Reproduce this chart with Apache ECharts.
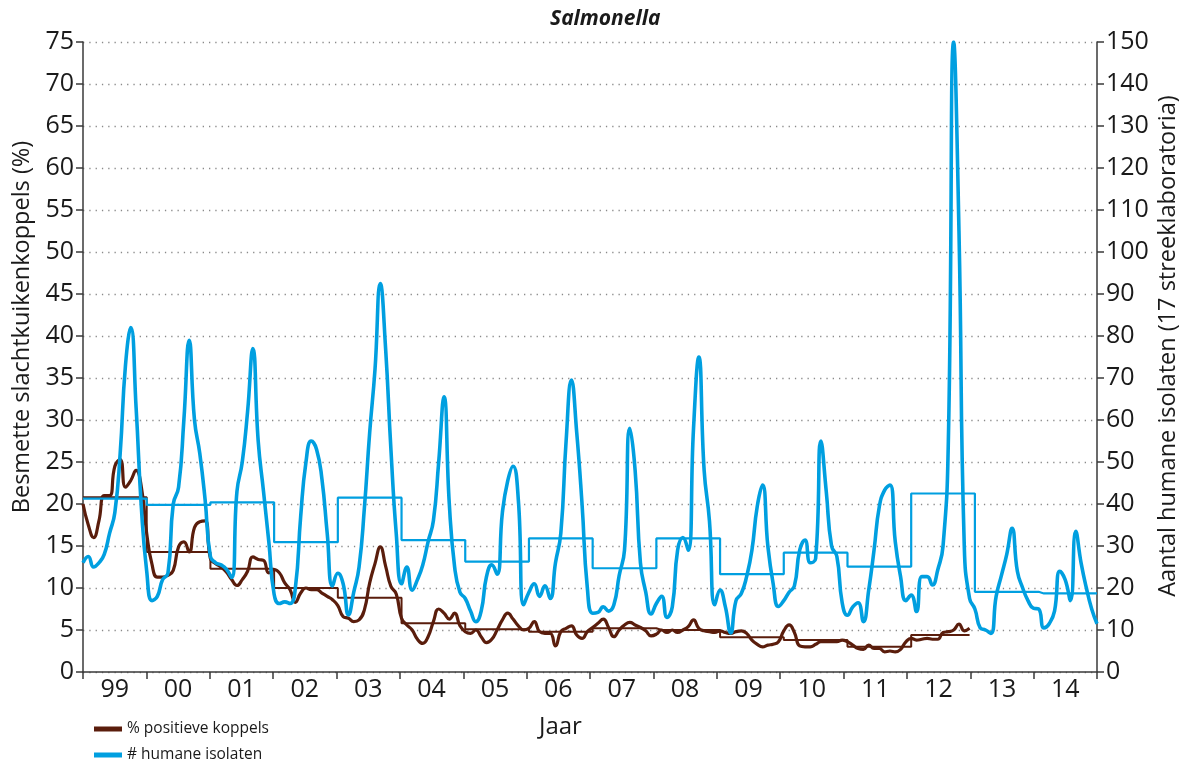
<!DOCTYPE html>
<html>
<head>
<meta charset="utf-8">
<title>Salmonella</title>
<script src="https://cdn.jsdelivr.net/npm/echarts@6/dist/echarts.min.js"></script>
<style>
  html, body { margin: 0; padding: 0; background: #ffffff; }
  #chart { width: 1188px; height: 766px; }
</style>
</head>
<body>
<div id="chart"></div>
<script>
// Year labels on the x axis (1999 .. 2014)
const years = ['99', '00', '01', '02', '03', '04', '05', '06', '07', '08', '09', '10', '11', '12', '13', '14'];

// Monthly number of human isolates (right axis), 1999-2014
const humaneIsolaten = [
  26, 27.5, 25, 26, 28, 33, 38, 52, 73, 82, 63, 39,
  24, 17, 18, 22, 23.5, 40, 44, 60, 79, 60, 52, 41,
  27.5, 26, 25.5, 24.5, 22.5, 43, 50, 62, 77, 55, 43, 31,
  18.5, 16.3, 16.7, 16.3, 20, 37, 50, 55, 53, 46, 33, 20.5,
  23.5, 21, 13.6, 19, 25, 39, 57, 72, 92.5, 77, 53, 33,
  21, 25, 19.5, 22, 25.5, 31, 36, 50, 65.5, 40, 25, 19,
  17.5, 14.5, 12, 14.5, 22.7, 25.5, 23.3, 38, 45.5, 49, 41, 16,
  19, 21, 18, 20.5, 17.5, 26, 33, 55, 69.5, 57, 40, 20,
  14, 14.2, 15.5, 14.5, 16, 23, 29, 58, 48, 26, 19, 13.8,
  16.3, 18, 13, 15.5, 29, 32, 29, 58, 75, 48, 36, 16,
  19.5, 15.5, 9.3, 17, 18.7, 22.7, 29, 39.4, 44.5, 30, 21, 15.6,
  17, 19, 20.5, 29, 31.4, 26, 27, 55, 43, 30, 27.5, 16.5,
  13.5, 15.5, 16.5, 12, 19.5, 29, 39.4, 43.3, 44.5, 31, 22.7, 17,
  18.3, 14.4, 22.7, 22.7, 20.7, 24.3, 30, 55, 150, 105, 30, 17.5,
  15, 10.5, 10, 9.2, 18, 23, 28, 34.2, 24, 20, 17, 15.2,
  15, 10.5, 11.5, 14.5, 24, 22, 17, 33.5, 26, 20, 15, 11.5
];

// Monthly share of positive broiler flocks in % (left axis), 1999-2012
const positieveKoppels = [
  20, 17.5, 16, 18, 21, 21, 24.5, 25.3, 22, 22.8, 24, 22,
  16.5, 12.8, 11.3, 11.3, 11.5, 12.1, 14.9, 15.5, 14.3, 17.2, 17.9, 18,
  13.5, 12.9, 12.5, 11.9, 11, 10.3, 11, 12, 13.7, 13.4, 13.3, 11.8,
  12.2, 11.8, 10.6, 9.8, 8.3, 9.4, 10, 9.8, 9.8, 9.4, 9, 8.6,
  7.9, 6.6, 6.4, 6, 6.2, 7.4, 10.6, 12.9, 14.9, 12.6, 10.2, 9.3,
  6.4, 5.6, 5, 3.9, 3.4, 4.2, 6, 7.5, 7, 6.3, 7, 5.5,
  4.8, 4.6, 5, 4.2, 3.5, 3.9, 5, 6.2, 7, 6.3, 5.5, 5,
  5.2, 6, 4.8, 4.6, 4.6, 3.1, 4.8, 5.2, 5.5, 4.4, 4, 4.8,
  5.3, 5.8, 6.3, 5.3, 4.2, 5, 5.6, 5.9, 5.6, 5.3, 4.9, 4.3,
  4.5, 5, 4.7, 5, 4.7, 5, 5.4, 6.2, 5.2, 4.9, 4.8, 4.7,
  4.9, 4.7, 4.6, 4.8, 4.9, 4.6, 3.8, 3.3, 3, 3.2, 3.3, 3.6,
  4.9, 5.6, 4.7, 3.1, 3, 3, 3.3, 3.6, 3.6, 3.6, 3.6, 3.8,
  3.6, 3.2, 2.8, 2.7, 3.2, 2.8, 2.8, 2.4, 2.5, 2.4, 2.7, 3.6,
  4, 3.8, 3.9, 4, 3.9, 3.9, 4.7, 4.8, 5, 5.7, 4.9, 5.2
];

// Yearly averages, drawn as steps
const humaneJaargemiddelde = [41.3, 39.8, 40.4, 30.9, 41.5, 31.4, 26.3, 31.8, 24.7, 31.8, 23.3, 28.4, 25.1, 42.5, 19.1, 18.7];
const koppelsJaargemiddelde = [20.8, 14.3, 12.3, 10.0, 8.85, 5.8, 5.1, 4.8, 5.2, 5.0, 4.15, 3.8, 3.0, 4.4];

const BLUE = '#009fe0';
const BROWN = '#5a1d0c';
const FONT = '"Open Sans", "Noto Sans", sans-serif';
const TEXT = '#1a1a1a';
const AXIS = '#3a3a3a';

// one category per month for the data lines
const months = years.flatMap(y => Array.from({ length: 12 }, (_, m) => y + '-' + (m + 1)));

// each month carries the average of its own year
const stepOf = (averages) => averages.flatMap(v => Array(12).fill(v));

const chart = echarts.init(document.getElementById('chart'), null, { renderer: 'canvas' });

chart.setOption({
  animation: false,
  backgroundColor: '#ffffff',
  textStyle: { fontFamily: FONT },
  title: [
    {
      text: 'Salmonella', left: 545, top: 4,
      textStyle: { fontFamily: FONT, fontSize: 21, fontWeight: 'bold', fontStyle: 'italic', color: TEXT }
    },
    {
      text: 'Jaar', left: 534, top: 710,
      textStyle: { fontFamily: FONT, fontSize: 24, fontWeight: 'normal', color: TEXT }
    }
  ],
  graphic: [
    {
      type: 'text', x: 22, y: 327, rotation: Math.PI / 2,
      style: {
        text: 'Besmette slachtkuikenkoppels (%)', fontFamily: FONT, fontSize: 23.5,
        fill: TEXT, align: 'center', verticalAlign: 'middle'
      }
    },
    {
      type: 'text', x: 1168, y: 346, rotation: Math.PI / 2,
      style: {
        text: 'Aantal humane isolaten (17 streeklaboratoria)', fontFamily: FONT, fontSize: 23.5,
        fill: TEXT, align: 'center', verticalAlign: 'middle'
      }
    }
  ],
  legend: {
    data: ['% positieve koppels', '# humane isolaten'],
    orient: 'vertical', left: 94, top: 721, padding: 0,
    icon: 'rect', itemWidth: 28, itemHeight: 5, itemGap: 10,
    textStyle: { fontFamily: FONT, fontSize: 15.5, color: TEXT }
  },
  grid: { left: 83, right: 91, top: 42, bottom: 94, containLabel: false },
  xAxis: [
    {
      type: 'category', data: years, boundaryGap: true, position: 'bottom',
      axisLine: { show: true, lineStyle: { color: AXIS, width: 1.5 } },
      axisTick: { show: true, length: 7, lineStyle: { color: AXIS, width: 1.5 } },
      axisLabel: { fontFamily: FONT, fontSize: 25, color: TEXT, margin: 5 },
      splitLine: { show: false }
    },
    {
      type: 'category', data: months, boundaryGap: false, show: false
    }
  ],
  yAxis: [
    {
      type: 'value', min: 0, max: 75, interval: 5, position: 'left',
      axisLine: { show: true, lineStyle: { color: AXIS, width: 1.5 } },
      axisTick: { show: true, length: 7, lineStyle: { color: AXIS, width: 1.5 } },
      axisLabel: { fontFamily: FONT, fontSize: 25, color: TEXT, margin: 9 },
      splitLine: { show: true, lineStyle: { color: '#8a8a8a', width: 1.3, type: [1.3, 5] } }
    },
    {
      type: 'value', min: 0, max: 150, interval: 10, position: 'right',
      axisLine: { show: true, lineStyle: { color: AXIS, width: 1.5 } },
      axisTick: { show: true, length: 7, lineStyle: { color: AXIS, width: 1.5 } },
      axisLabel: { fontFamily: FONT, fontSize: 25, color: TEXT, margin: 9 },
      splitLine: { show: false }
    }
  ],
  series: [
    {
      name: 'koppels jaargemiddelde', type: 'line', xAxisIndex: 1, yAxisIndex: 0,
      data: stepOf(koppelsJaargemiddelde), step: 'end', showSymbol: false, z: 2,
      color: BROWN, lineStyle: { color: BROWN, width: 2 }
    },
    {
      name: '% positieve koppels', type: 'line', xAxisIndex: 1, yAxisIndex: 0,
      data: positieveKoppels, smooth: 0.5, showSymbol: false, z: 3,
      color: BROWN, lineStyle: { color: BROWN, width: 3.2 }
    },
    {
      name: 'humane jaargemiddelde', type: 'line', xAxisIndex: 1, yAxisIndex: 1,
      data: stepOf(humaneJaargemiddelde), step: 'end', showSymbol: false, z: 4,
      color: BLUE, lineStyle: { color: BLUE, width: 2.2 }
    },
    {
      name: '# humane isolaten', type: 'line', xAxisIndex: 1, yAxisIndex: 1,
      data: humaneIsolaten, smooth: 0.5, showSymbol: false, z: 5,
      color: BLUE, lineStyle: { color: BLUE, width: 3.6 }
    }
  ]
});
</script>
</body>
</html>
